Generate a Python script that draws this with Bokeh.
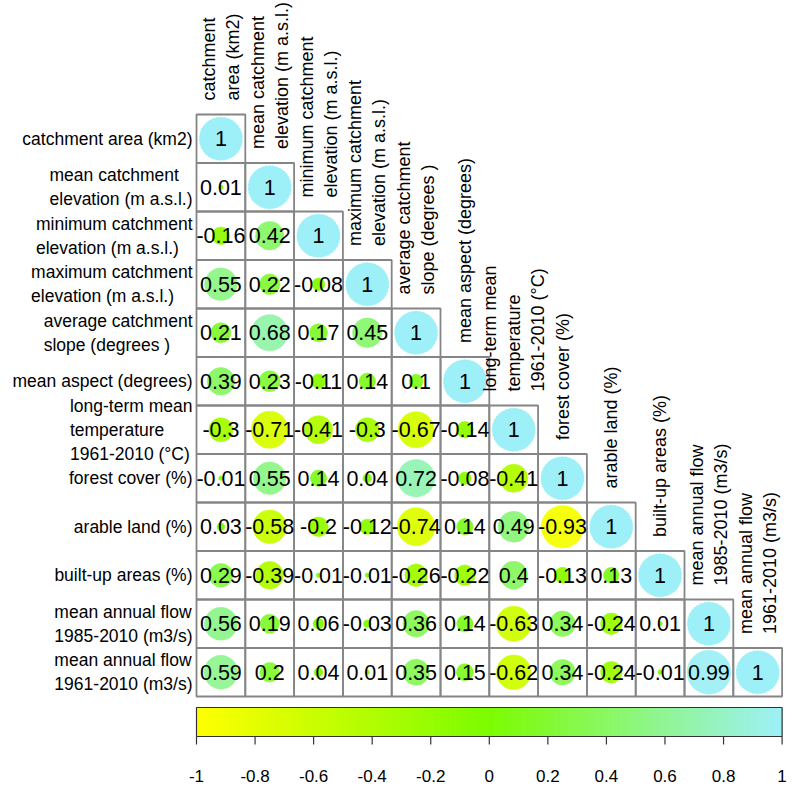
import numpy as np
from bokeh.plotting import figure
from bokeh.models import Range1d, ColumnDataSource
from bokeh.core.properties import value
from bokeh.embed import file_html
from bokeh.resources import INLINE

# ---------------- data ----------------
row_labels = [
    "catchment area (km2)",
    "mean catchment\nelevation (m a.s.l.)",
    "minimum catchment\nelevation (m a.s.l.)",
    "maximum catchment\nelevation (m a.s.l.)",
    "average catchment\nslope (degrees  )",
    "mean aspect (degrees)",
    "long-term mean\ntemperature\n1961-2010 (°C)",
    "forest cover (%)",
    "arable land (%)",
    "built-up areas (%)",
    "mean annual flow\n1985-2010 (m3/s)",
    "mean annual flow\n1961-2010 (m3/s)",
]
col_labels = [
    "catchment\narea (km2)",
    "mean catchment\nelevation (m a.s.l.)",
    "minimum catchment\nelevation (m a.s.l.)",
    "maximum catchment\nelevation (m a.s.l.)",
    "average catchment\nslope (degrees  )",
    "mean aspect (degrees)",
    "long-term mean\ntemperature\n1961-2010 (°C)",
    "forest cover (%)",
    "arable land (%)",
    "built-up areas (%)",
    "mean annual flow\n1985-2010 (m3/s)",
    "mean annual flow\n1961-2010 (m3/s)",
]
corr_rows = [
    [1],
    [0.01, 1],
    [-0.16, 0.42, 1],
    [0.55, 0.22, -0.08, 1],
    [0.21, 0.68, 0.17, 0.45, 1],
    [0.39, 0.23, -0.11, 0.14, 0.1, 1],
    [-0.3, -0.71, -0.41, -0.3, -0.67, -0.14, 1],
    [-0.01, 0.55, 0.14, 0.04, 0.72, -0.08, -0.41, 1],
    [0.03, -0.58, -0.2, -0.12, -0.74, 0.14, 0.49, -0.93, 1],
    [0.29, -0.39, -0.01, -0.01, -0.26, -0.22, 0.4, -0.13, 0.13, 1],
    [0.56, 0.19, 0.06, -0.03, 0.36, 0.14, -0.63, 0.34, -0.24, 0.01, 1],
    [0.59, 0.2, 0.04, 0.01, 0.35, 0.15, -0.62, 0.34, -0.24, -0.01, 0.99, 1],
]
tick_values = [-1, -0.8, -0.6, -0.4, -0.2, 0, 0.2, 0.4, 0.6, 0.8, 1]
tick_labels = ["-1", "-0.8", "-0.6", "-0.4", "-0.2", "0", "0.2", "0.4", "0.6", "0.8", "1"]

# colour ramp: yellow -> lawn green -> light cyan
stops = [(-1.0, (255, 255, 0)), (0.0, (124, 252, 0)), (1.0, (158, 240, 248))]


def ramp(v):
    for (a, ca), (b, cb) in zip(stops[:-1], stops[1:]):
        if a <= v <= b:
            t = (v - a) / (b - a)
            c = [round(ca[k] + (cb[k] - ca[k]) * t) for k in range(3)]
            return "#%02x%02x%02x" % tuple(c)
    return "#%02x%02x%02x" % (stops[-1][1] if v > 0 else stops[0][1])


# ---------------- layout (pixels) ----------------
N = len(row_labels)
CW, CH = 48.8, 48.5     # cell size in px
GX, GY = 196, 114       # grid top-left in px
W, H = 787, 790
FONT = value("Liberation Sans")

p = figure(width=W, height=H, output_backend="svg", toolbar_location=None,
           x_range=Range1d(-GX / CW, (W - GX) / CW),
           y_range=Range1d(N - (H - GY) / CH, N + GY / CH),
           x_axis_type=None, y_axis_type=None, min_border=0)
p.outline_line_color = None
p.background_fill_color = "white"

xs, ys, txt, cols, rads, diag = [], [], [], [], [], []
for i, row in enumerate(corr_rows):
    for j, v in enumerate(row):
        xs.append(j + 0.5)
        ys.append(N - 1 - i + 0.5)
        txt.append("%g" % v)
        cols.append(ramp(v))
        rads.append(22.0 * np.sqrt(abs(v)))
        diag.append(i == j)

src = ColumnDataSource(dict(x=xs, y=ys, t=txt))
p.rect("x", "y", width=1, height=1, source=src, fill_color=None,
       line_color="#858585", line_width=1.8)

off_idx = [k for k in range(len(xs)) if not diag[k]]
dia_idx = [k for k in range(len(xs)) if diag[k]]


def sub(idx):
    return ColumnDataSource(dict(x=[xs[k] for k in idx], y=[ys[k] for k in idx],
                                 c=[cols[k] for k in idx], r=[rads[k] for k in idx]))


p.circle("x", "y", radius="r", radius_units="screen", source=sub(off_idx),
         fill_color="c", line_color="c", line_alpha=0.5, fill_alpha=0.95)
p.circle("x", "y", radius="r", radius_units="screen", source=sub(dia_idx),
         fill_color="c", line_color="white", line_dash="2 2", line_width=1)

p.text("x", "y", text="t", source=src, text_align="center", text_baseline="middle",
       text_font=FONT, text_font_size="21.5px", text_color="black")

# row labels
p.text(x=[-4 / CW] * N, y=[N - 1 - i + 0.5 for i in range(N)], text=row_labels,
       anchor="center_right", text_align="left", text_baseline="middle",
       text_font=FONT, text_font_size="17.5px", text_color="black",
       text_line_height=1.2)

# column labels (rotated)
p.text(x=[j + 0.5 for j in range(N)], y=[N - j + 14 / CH for j in range(N)],
       text=col_labels, angle=np.pi / 2, anchor="center_left", text_align="left",
       text_baseline="middle", text_font=FONT, text_font_size="18px",
       text_color="black", text_line_height=1.2)

# colour bar
cb_top, cb_bot = -11 / CH, -40 / CH
vv = np.linspace(-1, 1, 241)
mid = (vv[:-1] + vv[1:]) / 2
cb_cols = [ramp(m) for m in mid]
p.quad(left=(vv[:-1] + 1) * N / 2, right=(vv[1:] + 1) * N / 2,
       bottom=cb_bot, top=cb_top, fill_color=cb_cols, line_color=cb_cols, line_width=1)
p.quad(left=[0], right=[N], bottom=[cb_bot], top=[cb_top], fill_color=None,
       line_color="#333333", line_width=1.2)
tx = [(t + 1) * N / 2 for t in tick_values]
p.segment(x0=tx, y0=[cb_bot] * len(tx), x1=tx, y1=[-48 / CH] * len(tx),
          line_color="#333333", line_width=1.2)
p.text(x=tx, y=[-79 / CH] * len(tx), text=tick_labels, text_align="center",
       text_baseline="middle", text_font=FONT, text_font_size="17px", text_color="black")

open("out.html", "w").write(file_html(p, INLINE))
